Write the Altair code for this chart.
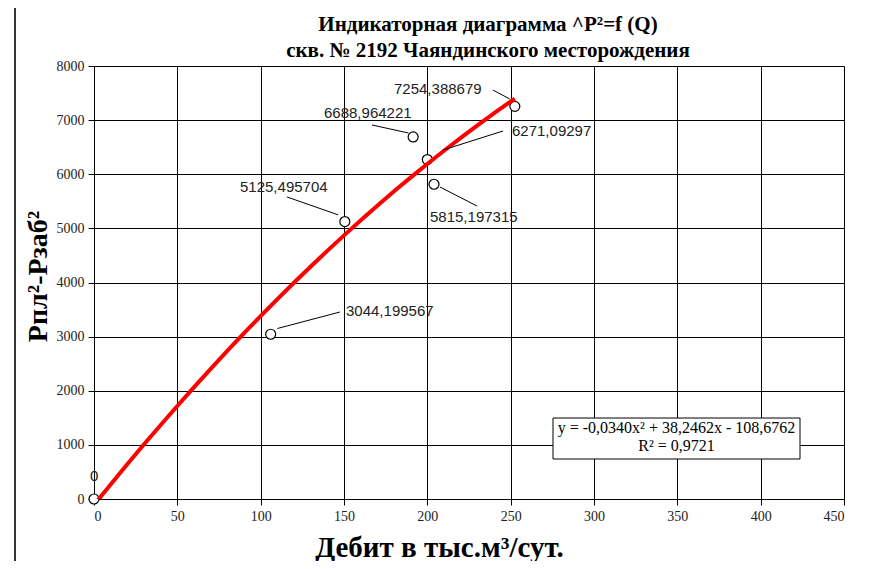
import altair as alt
import pandas as pd

# Data points (Q, ΔP²)
Q = [0, 106, 150.5, 191.5, 200, 204, 252.5]
dP = [0, 3044.199567, 5125.495704, 6688.964221, 6271.09297, 5815.197315, 7254.388679]
labels = ["0", "3044,199567", "5125,495704", "6688,964221", "6271,09297", "5815,197315", "7254,388679"]

# label anchor positions (data units, left-aligned)
label_x = [-2.4, 151.2, 87.6, 138, 250.8, 201.6, 180]
label_y = [425, 3473, 5764, 7132, 6799, 5210, 7575]

# leader lines (data units)
lead_x1 = [110, 115.8, 166.8, 209.4, 207.6, 239.4]
lead_y1 = [3150, 5580, 6910, 6448, 5764, 7556]
lead_x2 = [147.6, 146.5, 188.7, 245.4, 229.8, 249.5]
lead_y2 = [3455, 5250, 6762, 6799, 5413, 7390]

# equation box
eq_lines = ["y = -0,0340x² + 38,2462x - 108,6762", "R² = 0,9721"]
box_x = [275.4, 423.6]
box_y = [739, 1496]
eq_y = [1312, 979]

pts = pd.DataFrame({"Q": Q, "dP": dP})
lab = pd.DataFrame({"x": label_x, "y": label_y, "t": labels})
lead = pd.DataFrame({"x": lead_x1, "y": lead_y1, "x2": lead_x2, "y2": lead_y2})
box = pd.DataFrame({"x": [box_x[0]], "x2": [box_x[1]], "y": [box_y[0]], "y2": [box_y[1]]})
eq = pd.DataFrame({"x": [(box_x[0] + box_x[1]) / 2] * 2, "y": eq_y, "t": eq_lines})

xs = alt.Scale(domain=[0, 450], nice=False, zero=False)
ys = alt.Scale(domain=[0, 8000], nice=False, zero=False)

tick_font = "Liberation Serif"

x_axis = alt.Axis(
    values=list(range(0, 451, 50)), format="d", grid=True, gridColor="black", gridWidth=1, gridOpacity=1,
    domainColor="black", tickColor="black", tickSize=6, labelFont=tick_font, labelFontSize=14,
    labelColor="#222", labelPadding=4,
    title="Дебит в тыс.м³/сут.", titleFont="Liberation Serif", titleFontSize=29,
    titleFontWeight="bold", titleColor="black", titleX=345, titleY=57,
    titleBaseline="alphabetic", titleAlign="center",
)
y_axis = alt.Axis(
    values=list(range(0, 8001, 1000)), format="d", grid=True, gridColor="black", gridWidth=1, gridOpacity=1,
    domainColor="black", tickColor="black", tickSize=6, labelFont=tick_font, labelFontSize=14,
    labelColor="#222", labelPadding=4,
    title="Рпл²-Рзаб²", titleFont="Liberation Serif", titleFontSize=28,
    titleFontWeight="bold", titleColor="black", titleX=-56, titleY=210,
    titleBaseline="middle", titleAlign="center", titleAngle=-90,
)

base = alt.Chart(pts)

points = base.mark_point(shape="circle", size=100, filled=False, stroke="black",
                         strokeWidth=1.2, fill="white", fillOpacity=1, clip=False).encode(
    x=alt.X("Q:Q", scale=xs, axis=x_axis),
    y=alt.Y("dP:Q", scale=ys, axis=y_axis),
)

trend = base.transform_regression("Q", "dP", method="poly", order=2).mark_line(
    color="red", strokeWidth=4, clip=True
).encode(x=alt.X("Q:Q", scale=xs), y=alt.Y("dP:Q", scale=ys))

leaders = alt.Chart(lead).mark_rule(color="black", strokeWidth=1).encode(
    x=alt.X("x:Q", scale=xs), y=alt.Y("y:Q", scale=ys), x2="x2:Q", y2="y2:Q"
)

texts = alt.Chart(lab).mark_text(align="left", baseline="middle", font="Liberation Sans",
                                 fontSize=15, color="#222").encode(
    x=alt.X("x:Q", scale=xs), y=alt.Y("y:Q", scale=ys), text="t:N"
)

eq_box = alt.Chart(box).mark_rect(fill="white", stroke="black", strokeWidth=1).encode(
    x=alt.X("x:Q", scale=xs), x2="x2:Q", y=alt.Y("y:Q", scale=ys), y2="y2:Q"
)
eq_text = alt.Chart(eq).mark_text(align="center", baseline="middle", font="Liberation Serif",
                                  fontSize=16, color="black").encode(
    x=alt.X("x:Q", scale=xs), y=alt.Y("y:Q", scale=ys), text="t:N"
)

frame = alt.Chart(pd.DataFrame({"a": [0]})).mark_rule(color="#333", strokeWidth=2).encode(
    x=alt.value(-79), y=alt.value(-58), y2=alt.value(500)
)

chart = alt.layer(points, eq_box, eq_text, trend, leaders, texts, frame).properties(
    width=750, height=433,
    title=alt.TitleParams(
        text=["Индикаторная диаграмма ^Р²=f (Q)", "скв. № 2192 Чаяндинского месторождения"],
        font="Liberation Serif", fontSize=21, fontWeight="bold", color="black",
        anchor="middle", frame="group", dx=19, offset=-54, lineHeight=26,
    ),
    autosize=alt.AutoSizeParams(type="none"),
    padding={"left": 86, "top": 58, "right": 23, "bottom": 62},
).configure_view(stroke="black", strokeWidth=1).configure(background="white")

chart.save("out.html", embed_options={"renderer": "svg", "actions": False})
